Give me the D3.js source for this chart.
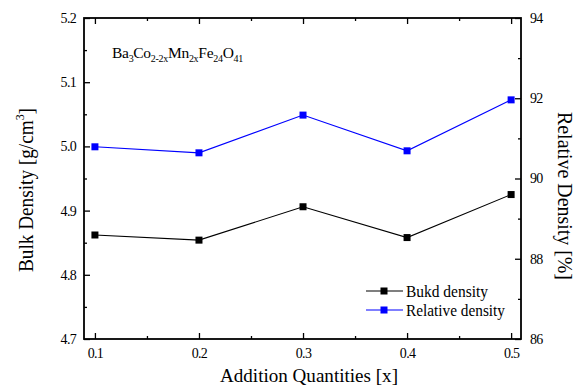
<!DOCTYPE html>
<html>
<head>
<meta charset="utf-8">
<script src="https://cdn.jsdelivr.net/npm/d3@7"></script>
<style>
  body { margin: 0; background: #fff; }
  svg text { font-family: "Liberation Serif", "Times New Roman", serif; fill: #000; }
</style>
</head>
<body>
<svg id="chart" width="582" height="387"></svg>
<script>
// Mn substitution x in Ba3Co(2-2x)Mn(2x)Fe24O41
const quantities = [0.1, 0.2, 0.3, 0.4, 0.5];
const bulkDensity = [4.862, 4.854, 4.906, 4.858, 4.925];     // g/cm^3
const relativeDensity = [90.79, 90.64, 91.58, 90.69, 91.96]; // %
const xTicks = [0.1, 0.2, 0.3, 0.4, 0.5];
const leftTicks = [4.7, 4.8, 4.9, 5.0, 5.1, 5.2];
const rightTicks = [86, 88, 90, 92, 94];
const seriesNames = ["Bukd density", "Relative density"];

const svg = d3.select("#chart");
const m = { left: 84, right: 521, top: 18, bottom: 339 };

const x = d3.scaleLinear().domain([0.0895, 0.5095]).range([m.left, m.right]);
const yL = d3.scaleLinear().domain([4.7, 5.2]).range([m.bottom, m.top]);
const yR = d3.scaleLinear().domain([86, 94]).range([m.bottom, m.top]);

const fmt1 = d3.format(".1f");

// inward-facing axes: major and minor ticks
function axisGroup(axis, tx, ty) {
  const g = svg.append("g").attr("transform", `translate(${tx},${ty})`).call(axis);
  g.select(".domain").remove();
  g.selectAll(".tick line").attr("stroke", "#000").attr("stroke-width", 1.3);
  g.selectAll("text").attr("font-size", 14).attr("letter-spacing", -0.7);
  return g;
}

const xMinor = [0.15, 0.25, 0.35, 0.45];
// bottom
axisGroup(d3.axisBottom(x).tickValues(xTicks).tickFormat(fmt1).tickSizeInner(-6).tickPadding(9), 0, m.bottom);
axisGroup(d3.axisBottom(x).tickValues(xMinor).tickFormat("").tickSizeInner(-3).tickSizeOuter(0), 0, m.bottom);
// top
axisGroup(d3.axisTop(x).tickValues(xTicks).tickFormat("").tickSizeInner(-6).tickSizeOuter(0), 0, m.top);
axisGroup(d3.axisTop(x).tickValues(xMinor).tickFormat("").tickSizeInner(-3).tickSizeOuter(0), 0, m.top);
// left
axisGroup(d3.axisLeft(yL).tickValues(leftTicks).tickFormat(fmt1).tickSizeInner(-6).tickPadding(8), m.left, 0);
axisGroup(d3.axisLeft(yL).tickValues([4.75, 4.85, 4.95, 5.05, 5.15]).tickFormat("").tickSizeInner(-3).tickSizeOuter(0), m.left, 0);
// right
axisGroup(d3.axisRight(yR).tickValues(rightTicks).tickFormat(d3.format("d")).tickSizeInner(-6).tickPadding(9), m.right, 0);
axisGroup(d3.axisRight(yR).tickValues([87, 89, 91, 93]).tickFormat("").tickSizeInner(-3).tickSizeOuter(0), m.right, 0);

// frame
svg.append("rect")
  .attr("x", m.left).attr("y", m.top)
  .attr("width", m.right - m.left).attr("height", m.bottom - m.top)
  .attr("fill", "none").attr("stroke", "#000").attr("stroke-width", 1.8);

// series
function drawSeries(values, yScale, color) {
  const pts = quantities.map((q, i) => [x(q), yScale(values[i])]);
  svg.append("path")
    .attr("d", d3.line()(pts))
    .attr("fill", "none").attr("stroke", color).attr("stroke-width", 1.1);
  svg.append("g").selectAll("rect").data(pts).join("rect")
    .attr("x", d => d[0] - 3.5).attr("y", d => d[1] - 3.5)
    .attr("width", 7).attr("height", 7).attr("fill", color);
}
drawSeries(bulkDensity, yL, "#000");
drawSeries(relativeDensity, yR, "#0000ff");

// legend
const legend = svg.append("g");
const legendWidths = [82, 99];
[["#000", 0], ["#0000ff", 1]].forEach(([c, i]) => {
  const ly = 291 + i * 19;
  legend.append("line").attr("x1", 366).attr("x2", 403).attr("y1", ly).attr("y2", ly)
    .attr("stroke", c).attr("stroke-width", 1.1);
  legend.append("rect").attr("x", 380.5).attr("y", ly - 3.5).attr("width", 7).attr("height", 7).attr("fill", c);
  legend.append("text").attr("x", 406).attr("y", ly + 5.5)
    .attr("font-size", 17)
    .attr("textLength", legendWidths[i]).attr("lengthAdjust", "spacingAndGlyphs")
    .text(seriesNames[i]);
});

// composition label with subscripts
const comp = svg.append("text").attr("x", 112).attr("y", 58)
  .attr("font-size", 15.5).attr("letter-spacing", -0.3);
let prevSub = false;
[["Ba", false], ["3", true], ["Co", false], ["2-2x", true], ["Mn", false], ["2x", true],
 ["Fe", false], ["24", true], ["O", false], ["41", true]].forEach(([t, sub]) => {
  const ts = comp.append("tspan").text(t);
  if (sub) ts.attr("font-size", 10).attr("dy", 4);
  else ts.attr("dy", prevSub ? -4 : 0);
  prevSub = sub;
});

// axis titles
svg.append("text")
  .attr("transform", "translate(220,382)")
  .attr("font-size", 19.5)
  .attr("textLength", 178).attr("lengthAdjust", "spacingAndGlyphs")
  .text("Addition Quantities [x]");

const yt = svg.append("text")
  .attr("transform", "translate(33,272) rotate(-90)")
  .attr("font-size", 21)
  .attr("textLength", 164).attr("lengthAdjust", "spacingAndGlyphs");
yt.append("tspan").text("Bulk Density [g/cm");
yt.append("tspan").text("3").attr("font-size", 13).attr("dy", -9);
yt.append("tspan").text("]").attr("dy", 9);

svg.append("text")
  .attr("transform", "translate(558,112) rotate(90)")
  .attr("font-size", 21)
  .attr("textLength", 168).attr("lengthAdjust", "spacingAndGlyphs")
  .text("Relative Density [%]");
</script>
</body>
</html>
